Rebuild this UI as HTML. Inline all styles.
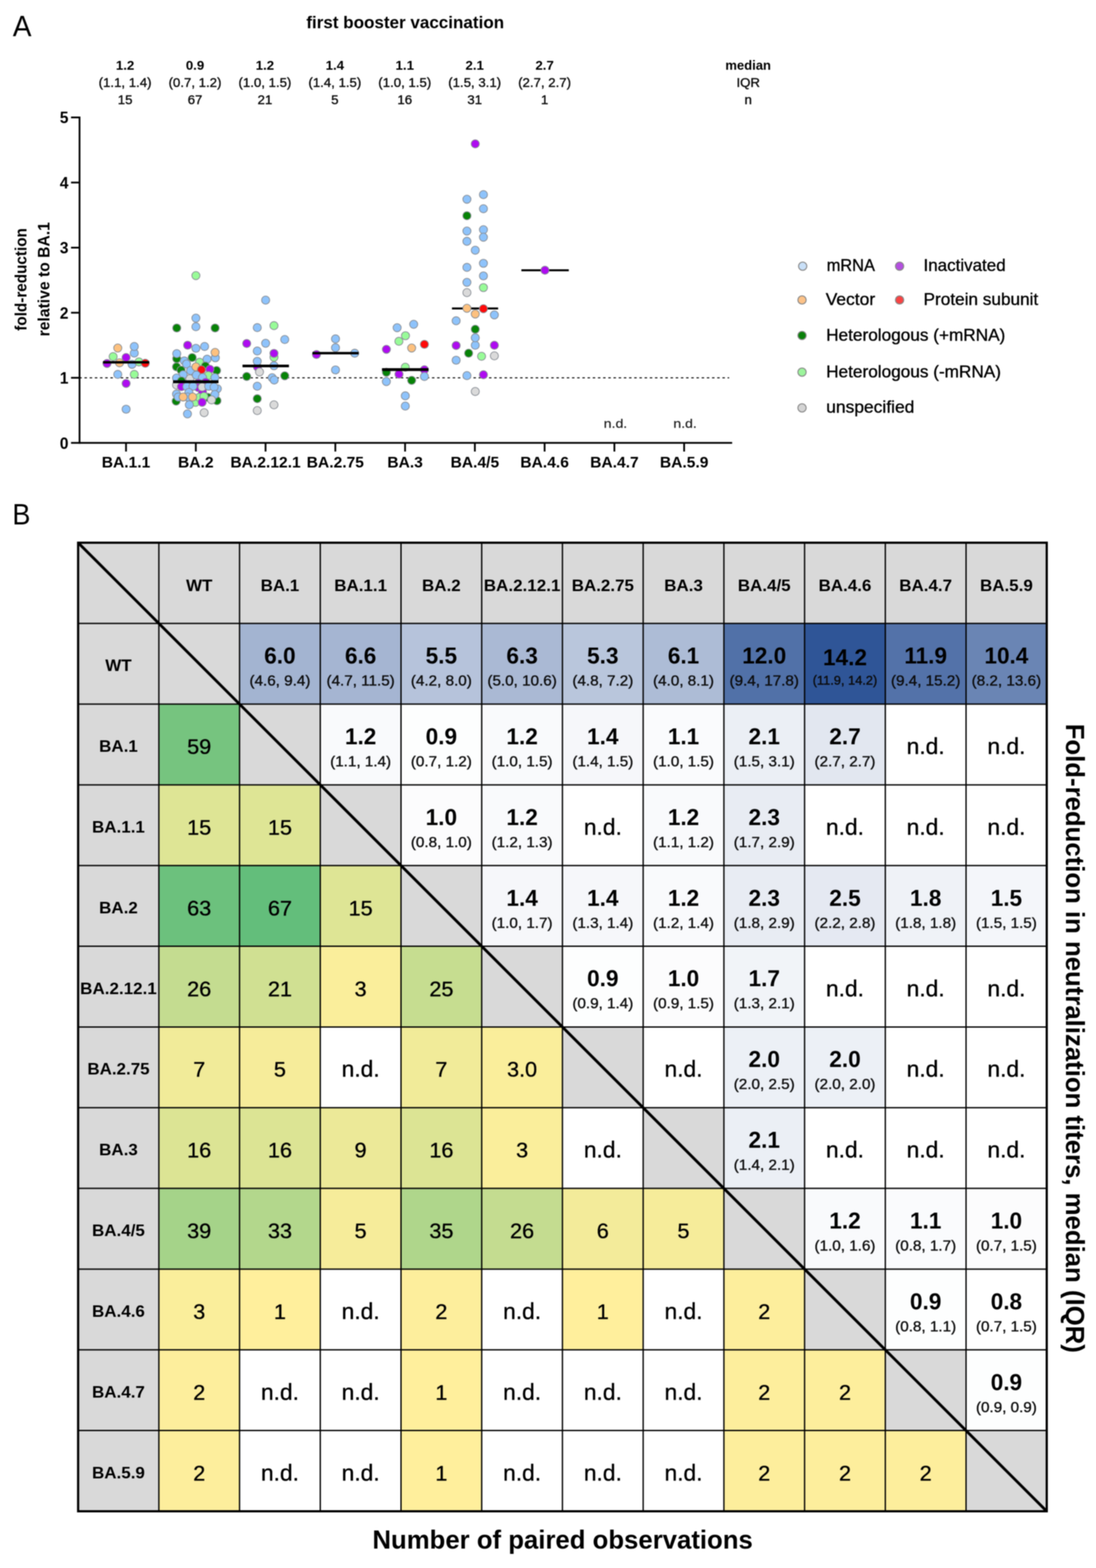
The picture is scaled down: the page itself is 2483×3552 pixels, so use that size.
<!DOCTYPE html>
<html lang="en">
<head>
<meta charset="utf-8">
<title>Fold-reduction in neutralization titers</title>
<style>
html,body{margin:0;padding:0;background:#fff;}
body{width:2483px;height:3552px;overflow:hidden;}
svg{display:block;}
text{font-family:"Liberation Sans",sans-serif;}
text.b{font-weight:bold;}
text.r{font-weight:normal;stroke:#000;stroke-width:0.7px;stroke-linejoin:round;}
</style>
</head>
<body>
<svg width="2483" height="3552" viewBox="0 0 2483 3552" style="filter:blur(0.8px)">
<rect x="0" y="0" width="2483" height="3552" fill="#fff"/>
<text class="r" x="29.0" y="81.5" font-size="66" text-anchor="start" textLength="42.3" lengthAdjust="spacingAndGlyphs" fill="#000" style="stroke:none">A</text>
<text class="b" x="918.0" y="63.7" font-size="38.6" text-anchor="middle" fill="#000">first booster vaccination</text>
<text class="b" x="283.4" y="157.8" font-size="29.5" text-anchor="middle" textLength="41.8" lengthAdjust="spacingAndGlyphs" fill="#000">1.2</text>
<text class="r" x="283.4" y="196.6" font-size="29.5" text-anchor="middle" textLength="119.8" lengthAdjust="spacingAndGlyphs" fill="#111">(1.1, 1.4)</text>
<text class="r" x="283.4" y="235.5" font-size="29.5" text-anchor="middle" textLength="33.3" lengthAdjust="spacingAndGlyphs" fill="#111">15</text>
<text class="b" x="441.8" y="157.8" font-size="29.5" text-anchor="middle" textLength="41.8" lengthAdjust="spacingAndGlyphs" fill="#000">0.9</text>
<text class="r" x="441.8" y="196.6" font-size="29.5" text-anchor="middle" textLength="119.8" lengthAdjust="spacingAndGlyphs" fill="#111">(0.7, 1.2)</text>
<text class="r" x="441.8" y="235.5" font-size="29.5" text-anchor="middle" textLength="33.3" lengthAdjust="spacingAndGlyphs" fill="#111">67</text>
<text class="b" x="600.2" y="157.8" font-size="29.5" text-anchor="middle" textLength="41.8" lengthAdjust="spacingAndGlyphs" fill="#000">1.2</text>
<text class="r" x="600.2" y="196.6" font-size="29.5" text-anchor="middle" textLength="119.8" lengthAdjust="spacingAndGlyphs" fill="#111">(1.0, 1.5)</text>
<text class="r" x="600.2" y="235.5" font-size="29.5" text-anchor="middle" textLength="33.3" lengthAdjust="spacingAndGlyphs" fill="#111">21</text>
<text class="b" x="758.6" y="157.8" font-size="29.5" text-anchor="middle" textLength="41.8" lengthAdjust="spacingAndGlyphs" fill="#000">1.4</text>
<text class="r" x="758.6" y="196.6" font-size="29.5" text-anchor="middle" textLength="119.8" lengthAdjust="spacingAndGlyphs" fill="#111">(1.4, 1.5)</text>
<text class="r" x="758.6" y="235.5" font-size="29.5" text-anchor="middle" textLength="16.7" lengthAdjust="spacingAndGlyphs" fill="#111">5</text>
<text class="b" x="917.0" y="157.8" font-size="29.5" text-anchor="middle" textLength="41.8" lengthAdjust="spacingAndGlyphs" fill="#000">1.1</text>
<text class="r" x="917.0" y="196.6" font-size="29.5" text-anchor="middle" textLength="119.8" lengthAdjust="spacingAndGlyphs" fill="#111">(1.0, 1.5)</text>
<text class="r" x="917.0" y="235.5" font-size="29.5" text-anchor="middle" textLength="33.3" lengthAdjust="spacingAndGlyphs" fill="#111">16</text>
<text class="b" x="1075.4" y="157.8" font-size="29.5" text-anchor="middle" textLength="41.8" lengthAdjust="spacingAndGlyphs" fill="#000">2.1</text>
<text class="r" x="1075.4" y="196.6" font-size="29.5" text-anchor="middle" textLength="119.8" lengthAdjust="spacingAndGlyphs" fill="#111">(1.5, 3.1)</text>
<text class="r" x="1075.4" y="235.5" font-size="29.5" text-anchor="middle" textLength="33.3" lengthAdjust="spacingAndGlyphs" fill="#111">31</text>
<text class="b" x="1233.8" y="157.8" font-size="29.5" text-anchor="middle" textLength="41.8" lengthAdjust="spacingAndGlyphs" fill="#000">2.7</text>
<text class="r" x="1233.8" y="196.6" font-size="29.5" text-anchor="middle" textLength="119.8" lengthAdjust="spacingAndGlyphs" fill="#111">(2.7, 2.7)</text>
<text class="r" x="1233.8" y="235.5" font-size="29.5" text-anchor="middle" textLength="16.7" lengthAdjust="spacingAndGlyphs" fill="#111">1</text>
<text class="b" x="1695.0" y="157.8" font-size="29.5" text-anchor="middle" fill="#000">median</text>
<text class="r" x="1695.0" y="196.6" font-size="29.5" text-anchor="middle" textLength="53.2" lengthAdjust="spacingAndGlyphs" fill="#111">IQR</text>
<text class="r" x="1695.0" y="235.5" font-size="29.5" text-anchor="middle" textLength="16.7" lengthAdjust="spacingAndGlyphs" fill="#111">n</text>
<text class="b" x="0.0" y="0.0" font-size="36.8" text-anchor="middle" textLength="232.5" lengthAdjust="spacingAndGlyphs" transform="translate(59.5 633.0) rotate(-90)" fill="#000">fold-reduction</text>
<text class="b" x="0.0" y="0.0" font-size="36.8" text-anchor="middle" textLength="258.8" lengthAdjust="spacingAndGlyphs" transform="translate(112.0 632.6) rotate(-90)" fill="#000">relative to BA.1</text>
<line x1="179.6" y1="855.8" x2="1652.0" y2="855.8" stroke="#000" stroke-width="2.2" stroke-dasharray="5.6 6.15"/>
<circle cx="242.4" cy="823.3" r="9.2" fill="#AE0BF0" stroke="#8A8F96" stroke-width="1.8"/>
<circle cx="270.8" cy="821.8" r="9.2" fill="#FDC17F" stroke="#8A8F96" stroke-width="1.8"/>
<circle cx="299.2" cy="825.3" r="9.2" fill="#8EC3FB" stroke="#8A8F96" stroke-width="1.8"/>
<circle cx="314.7" cy="819.8" r="9.2" fill="#98FB98" stroke="#8A8F96" stroke-width="1.8"/>
<circle cx="329.1" cy="822.8" r="9.2" fill="#FF0A0A" stroke="#8A8F96" stroke-width="1.8"/>
<circle cx="256.3" cy="807.8" r="9.2" fill="#98FB98" stroke="#8A8F96" stroke-width="1.8"/>
<circle cx="304.2" cy="799.9" r="9.2" fill="#8EC3FB" stroke="#8A8F96" stroke-width="1.8"/>
<circle cx="285.7" cy="809.8" r="9.2" fill="#AE0BF0" stroke="#8A8F96" stroke-width="1.8"/>
<circle cx="266.8" cy="788.4" r="9.2" fill="#FDC17F" stroke="#8A8F96" stroke-width="1.8"/>
<circle cx="304.2" cy="784.9" r="9.2" fill="#8EC3FB" stroke="#8A8F96" stroke-width="1.8"/>
<circle cx="266.8" cy="848.2" r="9.2" fill="#8EC3FB" stroke="#8A8F96" stroke-width="1.8"/>
<circle cx="304.2" cy="848.2" r="9.2" fill="#98FB98" stroke="#8A8F96" stroke-width="1.8"/>
<circle cx="285.7" cy="868.6" r="9.2" fill="#AE0BF0" stroke="#8A8F96" stroke-width="1.8"/>
<circle cx="285.7" cy="927.0" r="9.2" fill="#8EC3FB" stroke="#8A8F96" stroke-width="1.8"/>
<line x1="233.4" y1="820.8" x2="338.0" y2="820.8" stroke="#000" stroke-width="5.6"/>
<circle cx="443.8" cy="624.3" r="9.2" fill="#98FB98" stroke="#8A8F96" stroke-width="1.8"/>
<circle cx="443.8" cy="740.2" r="9.2" fill="#8EC3FB" stroke="#8A8F96" stroke-width="1.8"/>
<circle cx="443.8" cy="720.6" r="9.2" fill="#8EC3FB" stroke="#8A8F96" stroke-width="1.8"/>
<circle cx="400.4" cy="743.0" r="9.2" fill="#078307" stroke="#8A8F96" stroke-width="1.8"/>
<circle cx="487.3" cy="743.0" r="9.2" fill="#078307" stroke="#8A8F96" stroke-width="1.8"/>
<circle cx="425.1" cy="782.0" r="9.2" fill="#AE0BF0" stroke="#8A8F96" stroke-width="1.8"/>
<circle cx="443.8" cy="789.0" r="9.2" fill="#8EC3FB" stroke="#8A8F96" stroke-width="1.8"/>
<circle cx="463.5" cy="784.8" r="9.2" fill="#8EC3FB" stroke="#8A8F96" stroke-width="1.8"/>
<circle cx="487.8" cy="810.5" r="9.2" fill="#8EC3FB" stroke="#8A8F96" stroke-width="1.8"/>
<circle cx="487.3" cy="798.3" r="9.2" fill="#FDC17F" stroke="#8A8F96" stroke-width="1.8"/>
<circle cx="400.4" cy="812.5" r="9.2" fill="#078307" stroke="#8A8F96" stroke-width="1.8"/>
<circle cx="400.4" cy="801.1" r="9.2" fill="#8EC3FB" stroke="#8A8F96" stroke-width="1.8"/>
<circle cx="435.4" cy="810.0" r="9.2" fill="#078307" stroke="#8A8F96" stroke-width="1.8"/>
<circle cx="417.5" cy="817.5" r="9.2" fill="#8EC3FB" stroke="#8A8F96" stroke-width="1.8"/>
<circle cx="469.1" cy="813.7" r="9.2" fill="#8EC3FB" stroke="#8A8F96" stroke-width="1.8"/>
<circle cx="452.2" cy="820.7" r="9.2" fill="#98FB98" stroke="#8A8F96" stroke-width="1.8"/>
<circle cx="465.3" cy="829.2" r="9.2" fill="#078307" stroke="#8A8F96" stroke-width="1.8"/>
<circle cx="399.9" cy="831.0" r="9.2" fill="#078307" stroke="#8A8F96" stroke-width="1.8"/>
<circle cx="410.2" cy="838.5" r="9.2" fill="#078307" stroke="#8A8F96" stroke-width="1.8"/>
<circle cx="422.5" cy="824.5" r="9.2" fill="#8EC3FB" stroke="#8A8F96" stroke-width="1.8"/>
<circle cx="490.6" cy="839.4" r="9.2" fill="#078307" stroke="#8A8F96" stroke-width="1.8"/>
<circle cx="475.6" cy="836.6" r="9.2" fill="#AE0BF0" stroke="#8A8F96" stroke-width="1.8"/>
<circle cx="471.9" cy="850.7" r="9.2" fill="#98FB98" stroke="#8A8F96" stroke-width="1.8"/>
<circle cx="431.7" cy="839.4" r="9.2" fill="#8EC3FB" stroke="#8A8F96" stroke-width="1.8"/>
<circle cx="443.8" cy="831.0" r="9.2" fill="#FDC17F" stroke="#8A8F96" stroke-width="1.8"/>
<circle cx="456.4" cy="837.6" r="9.2" fill="#FF0A0A" stroke="#8A8F96" stroke-width="1.8"/>
<circle cx="430.0" cy="858.0" r="9.2" fill="#DADADA" stroke="#8A8F96" stroke-width="1.8"/>
<circle cx="414.9" cy="848.8" r="9.2" fill="#8EC3FB" stroke="#8A8F96" stroke-width="1.8"/>
<circle cx="444.8" cy="849.7" r="9.2" fill="#8EC3FB" stroke="#8A8F96" stroke-width="1.8"/>
<circle cx="399.9" cy="856.3" r="9.2" fill="#8EC3FB" stroke="#8A8F96" stroke-width="1.8"/>
<circle cx="458.8" cy="855.3" r="9.2" fill="#8EC3FB" stroke="#8A8F96" stroke-width="1.8"/>
<circle cx="486.8" cy="855.3" r="9.2" fill="#8EC3FB" stroke="#8A8F96" stroke-width="1.8"/>
<circle cx="411.1" cy="863.0" r="9.2" fill="#078307" stroke="#8A8F96" stroke-width="1.8"/>
<circle cx="449.0" cy="868.0" r="9.2" fill="#AE0BF0" stroke="#8A8F96" stroke-width="1.8"/>
<circle cx="466.0" cy="866.0" r="9.2" fill="#AE0BF0" stroke="#8A8F96" stroke-width="1.8"/>
<circle cx="399.9" cy="872.1" r="9.2" fill="#DADADA" stroke="#8A8F96" stroke-width="1.8"/>
<circle cx="411.1" cy="875.9" r="9.2" fill="#AE0BF0" stroke="#8A8F96" stroke-width="1.8"/>
<circle cx="449.4" cy="877.8" r="9.2" fill="#AE0BF0" stroke="#8A8F96" stroke-width="1.8"/>
<circle cx="458.8" cy="888.0" r="9.2" fill="#AE0BF0" stroke="#8A8F96" stroke-width="1.8"/>
<circle cx="423.3" cy="875.9" r="9.2" fill="#8EC3FB" stroke="#8A8F96" stroke-width="1.8"/>
<circle cx="437.3" cy="875.0" r="9.2" fill="#8EC3FB" stroke="#8A8F96" stroke-width="1.8"/>
<circle cx="457.9" cy="876.8" r="9.2" fill="#DADADA" stroke="#8A8F96" stroke-width="1.8"/>
<circle cx="472.8" cy="875.0" r="9.2" fill="#8EC3FB" stroke="#8A8F96" stroke-width="1.8"/>
<circle cx="492.4" cy="880.6" r="9.2" fill="#8EC3FB" stroke="#8A8F96" stroke-width="1.8"/>
<circle cx="485.0" cy="876.8" r="9.2" fill="#8EC3FB" stroke="#8A8F96" stroke-width="1.8"/>
<circle cx="399.0" cy="908.6" r="9.2" fill="#078307" stroke="#8A8F96" stroke-width="1.8"/>
<circle cx="491.5" cy="907.7" r="9.2" fill="#078307" stroke="#8A8F96" stroke-width="1.8"/>
<circle cx="470.9" cy="900.2" r="9.2" fill="#078307" stroke="#8A8F96" stroke-width="1.8"/>
<circle cx="427.9" cy="889.0" r="9.2" fill="#8EC3FB" stroke="#8A8F96" stroke-width="1.8"/>
<circle cx="399.9" cy="892.7" r="9.2" fill="#8EC3FB" stroke="#8A8F96" stroke-width="1.8"/>
<circle cx="403.6" cy="899.3" r="9.2" fill="#8EC3FB" stroke="#8A8F96" stroke-width="1.8"/>
<circle cx="486.8" cy="893.6" r="9.2" fill="#8EC3FB" stroke="#8A8F96" stroke-width="1.8"/>
<circle cx="442.9" cy="911.4" r="9.2" fill="#98FB98" stroke="#8A8F96" stroke-width="1.8"/>
<circle cx="451.3" cy="900.2" r="9.2" fill="#98FB98" stroke="#8A8F96" stroke-width="1.8"/>
<circle cx="462.0" cy="898.0" r="9.2" fill="#98FB98" stroke="#8A8F96" stroke-width="1.8"/>
<circle cx="425.0" cy="899.3" r="9.2" fill="#8EC3FB" stroke="#8A8F96" stroke-width="1.8"/>
<circle cx="414.9" cy="899.3" r="9.2" fill="#FDC17F" stroke="#8A8F96" stroke-width="1.8"/>
<circle cx="436.4" cy="899.3" r="9.2" fill="#FDC17F" stroke="#8A8F96" stroke-width="1.8"/>
<circle cx="479.3" cy="905.8" r="9.2" fill="#DADADA" stroke="#8A8F96" stroke-width="1.8"/>
<circle cx="457.9" cy="911.4" r="9.2" fill="#AE0BF0" stroke="#8A8F96" stroke-width="1.8"/>
<circle cx="428.9" cy="917.0" r="9.2" fill="#8EC3FB" stroke="#8A8F96" stroke-width="1.8"/>
<circle cx="424.7" cy="937.6" r="9.2" fill="#8EC3FB" stroke="#8A8F96" stroke-width="1.8"/>
<circle cx="462.5" cy="934.8" r="9.2" fill="#DADADA" stroke="#8A8F96" stroke-width="1.8"/>
<line x1="392.0" y1="864.7" x2="495.0" y2="864.7" stroke="#000" stroke-width="6.4"/>
<circle cx="601.8" cy="679.9" r="9.2" fill="#8EC3FB" stroke="#8A8F96" stroke-width="1.8"/>
<circle cx="582.8" cy="742.2" r="9.2" fill="#8EC3FB" stroke="#8A8F96" stroke-width="1.8"/>
<circle cx="620.7" cy="737.7" r="9.2" fill="#98FB98" stroke="#8A8F96" stroke-width="1.8"/>
<circle cx="645.1" cy="769.1" r="9.2" fill="#8EC3FB" stroke="#8A8F96" stroke-width="1.8"/>
<circle cx="558.9" cy="778.1" r="9.2" fill="#AE0BF0" stroke="#8A8F96" stroke-width="1.8"/>
<circle cx="601.8" cy="777.6" r="9.2" fill="#8EC3FB" stroke="#8A8F96" stroke-width="1.8"/>
<circle cx="582.8" cy="795.2" r="9.2" fill="#8EC3FB" stroke="#8A8F96" stroke-width="1.8"/>
<circle cx="620.7" cy="828.5" r="9.2" fill="#8EC3FB" stroke="#8A8F96" stroke-width="1.8"/>
<circle cx="620.7" cy="809.4" r="9.2" fill="#98FB98" stroke="#8A8F96" stroke-width="1.8"/>
<circle cx="620.7" cy="800.5" r="9.2" fill="#AE0BF0" stroke="#8A8F96" stroke-width="1.8"/>
<circle cx="583.2" cy="831.0" r="9.2" fill="#AE0BF0" stroke="#8A8F96" stroke-width="1.8"/>
<circle cx="582.8" cy="818.5" r="9.2" fill="#8EC3FB" stroke="#8A8F96" stroke-width="1.8"/>
<circle cx="587.9" cy="842.6" r="9.2" fill="#DADADA" stroke="#8A8F96" stroke-width="1.8"/>
<circle cx="558.9" cy="852.8" r="9.2" fill="#078307" stroke="#8A8F96" stroke-width="1.8"/>
<circle cx="645.1" cy="851.3" r="9.2" fill="#078307" stroke="#8A8F96" stroke-width="1.8"/>
<circle cx="616.5" cy="855.6" r="9.2" fill="#8EC3FB" stroke="#8A8F96" stroke-width="1.8"/>
<circle cx="621.2" cy="860.8" r="9.2" fill="#8EC3FB" stroke="#8A8F96" stroke-width="1.8"/>
<circle cx="582.8" cy="874.9" r="9.2" fill="#8EC3FB" stroke="#8A8F96" stroke-width="1.8"/>
<circle cx="582.8" cy="903.2" r="9.2" fill="#078307" stroke="#8A8F96" stroke-width="1.8"/>
<circle cx="620.7" cy="917.1" r="9.2" fill="#DADADA" stroke="#8A8F96" stroke-width="1.8"/>
<circle cx="582.8" cy="930.1" r="9.2" fill="#DADADA" stroke="#8A8F96" stroke-width="1.8"/>
<line x1="549.4" y1="829.1" x2="654.6" y2="829.1" stroke="#000" stroke-width="6.0"/>
<circle cx="760.1" cy="787.7" r="9.2" fill="#8EC3FB" stroke="#8A8F96" stroke-width="1.8"/>
<circle cx="760.1" cy="767.7" r="9.2" fill="#8EC3FB" stroke="#8A8F96" stroke-width="1.8"/>
<circle cx="716.9" cy="803.0" r="9.2" fill="#AE0BF0" stroke="#8A8F96" stroke-width="1.8"/>
<circle cx="803.6" cy="800.2" r="9.2" fill="#8EC3FB" stroke="#8A8F96" stroke-width="1.8"/>
<circle cx="760.1" cy="838.0" r="9.2" fill="#8EC3FB" stroke="#8A8F96" stroke-width="1.8"/>
<line x1="707.9" y1="800.0" x2="812.6" y2="800.0" stroke="#000" stroke-width="5.3"/>
<circle cx="899.7" cy="742.3" r="9.2" fill="#8EC3FB" stroke="#8A8F96" stroke-width="1.8"/>
<circle cx="937.2" cy="734.6" r="9.2" fill="#8EC3FB" stroke="#8A8F96" stroke-width="1.8"/>
<circle cx="903.7" cy="773.2" r="9.2" fill="#98FB98" stroke="#8A8F96" stroke-width="1.8"/>
<circle cx="918.6" cy="760.5" r="9.2" fill="#98FB98" stroke="#8A8F96" stroke-width="1.8"/>
<circle cx="961.5" cy="780.0" r="9.2" fill="#FF0A0A" stroke="#8A8F96" stroke-width="1.8"/>
<circle cx="932.6" cy="788.3" r="9.2" fill="#FDC17F" stroke="#8A8F96" stroke-width="1.8"/>
<circle cx="875.4" cy="791.3" r="9.2" fill="#AE0BF0" stroke="#8A8F96" stroke-width="1.8"/>
<circle cx="918.2" cy="831.8" r="9.2" fill="#98FB98" stroke="#8A8F96" stroke-width="1.8"/>
<circle cx="875.4" cy="843.3" r="9.2" fill="#078307" stroke="#8A8F96" stroke-width="1.8"/>
<circle cx="903.9" cy="847.7" r="9.2" fill="#AE0BF0" stroke="#8A8F96" stroke-width="1.8"/>
<circle cx="961.5" cy="837.6" r="9.2" fill="#AE0BF0" stroke="#8A8F96" stroke-width="1.8"/>
<circle cx="961.5" cy="852.9" r="9.2" fill="#8EC3FB" stroke="#8A8F96" stroke-width="1.8"/>
<circle cx="875.3" cy="864.4" r="9.2" fill="#8EC3FB" stroke="#8A8F96" stroke-width="1.8"/>
<circle cx="932.6" cy="861.6" r="9.2" fill="#078307" stroke="#8A8F96" stroke-width="1.8"/>
<circle cx="918.2" cy="896.7" r="9.2" fill="#8EC3FB" stroke="#8A8F96" stroke-width="1.8"/>
<circle cx="918.2" cy="919.9" r="9.2" fill="#8EC3FB" stroke="#8A8F96" stroke-width="1.8"/>
<line x1="865.4" y1="837.3" x2="970.7" y2="837.3" stroke="#000" stroke-width="6.6"/>
<line x1="1023.9" y1="698.8" x2="1128.5" y2="698.8" stroke="#000" stroke-width="4.4"/>
<circle cx="1076.7" cy="325.9" r="9.2" fill="#AE0BF0" stroke="#8A8F96" stroke-width="1.8"/>
<circle cx="1095.2" cy="440.9" r="9.2" fill="#8EC3FB" stroke="#8A8F96" stroke-width="1.8"/>
<circle cx="1057.8" cy="451.3" r="9.2" fill="#8EC3FB" stroke="#8A8F96" stroke-width="1.8"/>
<circle cx="1095.2" cy="472.8" r="9.2" fill="#8EC3FB" stroke="#8A8F96" stroke-width="1.8"/>
<circle cx="1057.8" cy="488.7" r="9.2" fill="#078307" stroke="#8A8F96" stroke-width="1.8"/>
<circle cx="1057.8" cy="523.4" r="9.2" fill="#8EC3FB" stroke="#8A8F96" stroke-width="1.8"/>
<circle cx="1095.2" cy="520.4" r="9.2" fill="#8EC3FB" stroke="#8A8F96" stroke-width="1.8"/>
<circle cx="1095.2" cy="537.3" r="9.2" fill="#8EC3FB" stroke="#8A8F96" stroke-width="1.8"/>
<circle cx="1057.8" cy="546.7" r="9.2" fill="#8EC3FB" stroke="#8A8F96" stroke-width="1.8"/>
<circle cx="1076.7" cy="566.8" r="9.2" fill="#8EC3FB" stroke="#8A8F96" stroke-width="1.8"/>
<circle cx="1095.2" cy="596.5" r="9.2" fill="#8EC3FB" stroke="#8A8F96" stroke-width="1.8"/>
<circle cx="1057.8" cy="605.7" r="9.2" fill="#8EC3FB" stroke="#8A8F96" stroke-width="1.8"/>
<circle cx="1095.2" cy="625.0" r="9.2" fill="#8EC3FB" stroke="#8A8F96" stroke-width="1.8"/>
<circle cx="1057.8" cy="639.6" r="9.2" fill="#8EC3FB" stroke="#8A8F96" stroke-width="1.8"/>
<circle cx="1095.2" cy="651.5" r="9.2" fill="#98FB98" stroke="#8A8F96" stroke-width="1.8"/>
<circle cx="1057.8" cy="662.9" r="9.2" fill="#DADADA" stroke="#8A8F96" stroke-width="1.8"/>
<circle cx="1057.8" cy="698.4" r="9.2" fill="#FDC17F" stroke="#8A8F96" stroke-width="1.8"/>
<circle cx="1095.2" cy="699.4" r="9.2" fill="#FF0A0A" stroke="#8A8F96" stroke-width="1.8"/>
<circle cx="1076.7" cy="711.3" r="9.2" fill="#FDC17F" stroke="#8A8F96" stroke-width="1.8"/>
<circle cx="1120.0" cy="713.3" r="9.2" fill="#8EC3FB" stroke="#8A8F96" stroke-width="1.8"/>
<circle cx="1033.4" cy="726.7" r="9.2" fill="#8EC3FB" stroke="#8A8F96" stroke-width="1.8"/>
<circle cx="1076.7" cy="745.8" r="9.2" fill="#078307" stroke="#8A8F96" stroke-width="1.8"/>
<circle cx="1076.7" cy="782.1" r="9.2" fill="#8EC3FB" stroke="#8A8F96" stroke-width="1.8"/>
<circle cx="1076.7" cy="765.2" r="9.2" fill="#8EC3FB" stroke="#8A8F96" stroke-width="1.8"/>
<circle cx="1033.4" cy="782.7" r="9.2" fill="#AE0BF0" stroke="#8A8F96" stroke-width="1.8"/>
<circle cx="1120.0" cy="782.1" r="9.2" fill="#AE0BF0" stroke="#8A8F96" stroke-width="1.8"/>
<circle cx="1061.7" cy="800.1" r="9.2" fill="#078307" stroke="#8A8F96" stroke-width="1.8"/>
<circle cx="1091.0" cy="807.1" r="9.2" fill="#98FB98" stroke="#8A8F96" stroke-width="1.8"/>
<circle cx="1120.0" cy="806.1" r="9.2" fill="#DADADA" stroke="#8A8F96" stroke-width="1.8"/>
<circle cx="1033.4" cy="816.0" r="9.2" fill="#8EC3FB" stroke="#8A8F96" stroke-width="1.8"/>
<circle cx="1057.8" cy="850.9" r="9.2" fill="#8EC3FB" stroke="#8A8F96" stroke-width="1.8"/>
<circle cx="1095.2" cy="848.9" r="9.2" fill="#AE0BF0" stroke="#8A8F96" stroke-width="1.8"/>
<circle cx="1076.7" cy="886.8" r="9.2" fill="#DADADA" stroke="#8A8F96" stroke-width="1.8"/>
<line x1="1181.2" y1="612.2" x2="1288.6" y2="612.2" stroke="#000" stroke-width="4.4"/>
<circle cx="1234.6" cy="612.2" r="9.2" fill="#AE0BF0" stroke="#8A8F96" stroke-width="1.8"/>
<line x1="180.2" y1="264.0" x2="180.2" y2="1005.3" stroke="#000" stroke-width="4.0"/>
<line x1="160.9" y1="1003.3" x2="1658.7" y2="1003.3" stroke="#000" stroke-width="4.0"/>
<line x1="160.9" y1="855.8" x2="180.2" y2="855.8" stroke="#000" stroke-width="4.0"/>
<line x1="160.9" y1="708.4" x2="180.2" y2="708.4" stroke="#000" stroke-width="4.0"/>
<line x1="160.9" y1="561.0" x2="180.2" y2="561.0" stroke="#000" stroke-width="4.0"/>
<line x1="160.9" y1="413.5" x2="180.2" y2="413.5" stroke="#000" stroke-width="4.0"/>
<line x1="160.9" y1="266.0" x2="180.2" y2="266.0" stroke="#000" stroke-width="4.0"/>
<text class="b" x="155.0" y="1016.6" font-size="37.5" text-anchor="end" textLength="19.6" lengthAdjust="spacingAndGlyphs" fill="#000">0</text>
<text class="b" x="155.0" y="869.1" font-size="37.5" text-anchor="end" textLength="19.6" lengthAdjust="spacingAndGlyphs" fill="#000">1</text>
<text class="b" x="155.0" y="721.7" font-size="37.5" text-anchor="end" textLength="19.6" lengthAdjust="spacingAndGlyphs" fill="#000">2</text>
<text class="b" x="155.0" y="574.2" font-size="37.5" text-anchor="end" textLength="19.6" lengthAdjust="spacingAndGlyphs" fill="#000">3</text>
<text class="b" x="155.0" y="426.8" font-size="37.5" text-anchor="end" textLength="19.6" lengthAdjust="spacingAndGlyphs" fill="#000">4</text>
<text class="b" x="155.0" y="279.3" font-size="37.5" text-anchor="end" textLength="19.6" lengthAdjust="spacingAndGlyphs" fill="#000">5</text>
<line x1="285.5" y1="1003.3" x2="285.5" y2="1022.9" stroke="#000" stroke-width="4.0"/>
<text class="b" x="285.5" y="1058.5" font-size="35" text-anchor="middle" textLength="110.0" lengthAdjust="spacingAndGlyphs" fill="#000">BA.1.1</text>
<line x1="443.6" y1="1003.3" x2="443.6" y2="1022.9" stroke="#000" stroke-width="4.0"/>
<text class="b" x="443.6" y="1058.5" font-size="35" text-anchor="middle" textLength="80.5" lengthAdjust="spacingAndGlyphs" fill="#000">BA.2</text>
<line x1="601.6" y1="1003.3" x2="601.6" y2="1022.9" stroke="#000" stroke-width="4.0"/>
<text class="b" x="601.6" y="1058.5" font-size="35" text-anchor="middle" textLength="159.2" lengthAdjust="spacingAndGlyphs" fill="#000">BA.2.12.1</text>
<line x1="759.7" y1="1003.3" x2="759.7" y2="1022.9" stroke="#000" stroke-width="4.0"/>
<text class="b" x="759.7" y="1058.5" font-size="35" text-anchor="middle" textLength="129.7" lengthAdjust="spacingAndGlyphs" fill="#000">BA.2.75</text>
<line x1="917.7" y1="1003.3" x2="917.7" y2="1022.9" stroke="#000" stroke-width="4.0"/>
<text class="b" x="917.7" y="1058.5" font-size="35" text-anchor="middle" textLength="80.5" lengthAdjust="spacingAndGlyphs" fill="#000">BA.3</text>
<line x1="1075.8" y1="1003.3" x2="1075.8" y2="1022.9" stroke="#000" stroke-width="4.0"/>
<text class="b" x="1075.8" y="1058.5" font-size="35" text-anchor="middle" textLength="110.0" lengthAdjust="spacingAndGlyphs" fill="#000">BA.4/5</text>
<line x1="1233.8" y1="1003.3" x2="1233.8" y2="1022.9" stroke="#000" stroke-width="4.0"/>
<text class="b" x="1233.8" y="1058.5" font-size="35" text-anchor="middle" textLength="110.0" lengthAdjust="spacingAndGlyphs" fill="#000">BA.4.6</text>
<line x1="1391.9" y1="1003.3" x2="1391.9" y2="1022.9" stroke="#000" stroke-width="4.0"/>
<text class="b" x="1391.9" y="1058.5" font-size="35" text-anchor="middle" textLength="110.0" lengthAdjust="spacingAndGlyphs" fill="#000">BA.4.7</text>
<line x1="1549.9" y1="1003.3" x2="1549.9" y2="1022.9" stroke="#000" stroke-width="4.0"/>
<text class="b" x="1549.9" y="1058.5" font-size="35" text-anchor="middle" textLength="110.0" lengthAdjust="spacingAndGlyphs" fill="#000">BA.5.9</text>
<text class="r" x="1394.4" y="968.8" font-size="28.2" text-anchor="middle" textLength="53.2" lengthAdjust="spacingAndGlyphs" fill="#222" style="stroke-width:0.3px">n.d.</text>
<text class="r" x="1552.1" y="968.8" font-size="28.2" text-anchor="middle" textLength="53.2" lengthAdjust="spacingAndGlyphs" fill="#222" style="stroke-width:0.3px">n.d.</text>
<circle cx="1818.5" cy="603" r="9.4" fill="#C9E0F8" stroke="#888" stroke-width="2.3"/>
<text class="r" x="1873.0" y="614.0" font-size="38" text-anchor="start" textLength="109.1" lengthAdjust="spacingAndGlyphs" fill="#000">mRNA</text>
<circle cx="2038" cy="603" r="9.4" fill="#B44FE0" stroke="#888" stroke-width="2.3"/>
<text class="r" x="2092.3" y="614.0" font-size="38" text-anchor="start" textLength="186.0" lengthAdjust="spacingAndGlyphs" fill="#000">Inactivated</text>
<circle cx="1817" cy="679.5" r="9.4" fill="#FCC288" stroke="#888" stroke-width="2.3"/>
<text class="r" x="1870.7" y="690.5" font-size="38" text-anchor="start" textLength="112.0" lengthAdjust="spacingAndGlyphs" fill="#000">Vector</text>
<circle cx="2038" cy="679.5" r="9.4" fill="#F84444" stroke="#888" stroke-width="2.3"/>
<text class="r" x="2092.3" y="690.5" font-size="38" text-anchor="start" textLength="259.8" lengthAdjust="spacingAndGlyphs" fill="#000">Protein subunit</text>
<circle cx="1817" cy="760" r="9.4" fill="#0A800A" stroke="#888" stroke-width="2.3"/>
<text class="r" x="1871.7" y="772.0" font-size="38" text-anchor="start" textLength="405.9" lengthAdjust="spacingAndGlyphs" fill="#000">Heterologous (+mRNA)</text>
<circle cx="1817" cy="843" r="9.4" fill="#9CF49C" stroke="#888" stroke-width="2.3"/>
<text class="r" x="1871.7" y="854.8" font-size="38" text-anchor="start" textLength="396.1" lengthAdjust="spacingAndGlyphs" fill="#000">Heterologous (-mRNA)</text>
<circle cx="1817" cy="924" r="9.4" fill="#D4D4D4" stroke="#888" stroke-width="2.3"/>
<text class="r" x="1871.7" y="935.0" font-size="38" text-anchor="start" textLength="199.9" lengthAdjust="spacingAndGlyphs" fill="#000">unspecified</text>
<text class="r" x="28.0" y="1187.5" font-size="66" text-anchor="start" textLength="40.9" lengthAdjust="spacingAndGlyphs" fill="#000" style="stroke:none">B</text>
<rect x="177.0" y="1229.4" width="2194.4" height="182.8" fill="#D9D9D9"/>
<rect x="177.0" y="1229.4" width="182.9" height="2194.1" fill="#D9D9D9"/>
<rect x="359.9" y="1412.2" width="182.9" height="182.8" fill="#D9D9D9"/>
<rect x="542.7" y="1595.1" width="182.9" height="182.8" fill="#D9D9D9"/>
<rect x="725.6" y="1777.9" width="182.9" height="182.8" fill="#D9D9D9"/>
<rect x="908.5" y="1960.8" width="182.9" height="182.8" fill="#D9D9D9"/>
<rect x="1091.3" y="2143.6" width="182.9" height="182.8" fill="#D9D9D9"/>
<rect x="1274.2" y="2326.4" width="182.9" height="182.8" fill="#D9D9D9"/>
<rect x="1457.1" y="2509.3" width="182.9" height="182.8" fill="#D9D9D9"/>
<rect x="1640.0" y="2692.1" width="182.9" height="182.8" fill="#D9D9D9"/>
<rect x="1822.8" y="2875.0" width="182.9" height="182.8" fill="#D9D9D9"/>
<rect x="2005.7" y="3057.8" width="182.9" height="182.8" fill="#D9D9D9"/>
<rect x="2188.6" y="3240.6" width="182.9" height="182.8" fill="#D9D9D9"/>
<rect x="542.7" y="1412.2" width="182.9" height="182.8" fill="#A3B4D1"/>
<text class="b" x="634.2" y="1503.0" font-size="52.5" text-anchor="middle" textLength="71.2" lengthAdjust="spacingAndGlyphs" fill="#000">6.0</text>
<text class="r" x="634.2" y="1553.0" font-size="33.5" text-anchor="middle" textLength="138.1" lengthAdjust="spacingAndGlyphs" fill="#111">(4.6, 9.4)</text>
<rect x="725.6" y="1412.2" width="182.9" height="182.8" fill="#A5B5D2"/>
<text class="b" x="817.0" y="1503.0" font-size="52.5" text-anchor="middle" textLength="71.2" lengthAdjust="spacingAndGlyphs" fill="#000">6.6</text>
<text class="r" x="817.0" y="1553.0" font-size="33.5" text-anchor="middle" textLength="154.7" lengthAdjust="spacingAndGlyphs" fill="#111">(4.7, 11.5)</text>
<rect x="908.5" y="1412.2" width="182.9" height="182.8" fill="#B6C3DB"/>
<text class="b" x="999.9" y="1503.0" font-size="52.5" text-anchor="middle" textLength="71.2" lengthAdjust="spacingAndGlyphs" fill="#000">5.5</text>
<text class="r" x="999.9" y="1553.0" font-size="33.5" text-anchor="middle" textLength="138.1" lengthAdjust="spacingAndGlyphs" fill="#111">(4.2, 8.0)</text>
<rect x="1091.3" y="1412.2" width="182.9" height="182.8" fill="#AAB9D4"/>
<text class="b" x="1182.8" y="1503.0" font-size="52.5" text-anchor="middle" textLength="71.2" lengthAdjust="spacingAndGlyphs" fill="#000">6.3</text>
<text class="r" x="1182.8" y="1553.0" font-size="33.5" text-anchor="middle" textLength="157.3" lengthAdjust="spacingAndGlyphs" fill="#111">(5.0, 10.6)</text>
<rect x="1274.2" y="1412.2" width="182.9" height="182.8" fill="#B9C6DC"/>
<text class="b" x="1365.7" y="1503.0" font-size="52.5" text-anchor="middle" textLength="71.2" lengthAdjust="spacingAndGlyphs" fill="#000">5.3</text>
<text class="r" x="1365.7" y="1553.0" font-size="33.5" text-anchor="middle" textLength="138.1" lengthAdjust="spacingAndGlyphs" fill="#111">(4.8, 7.2)</text>
<rect x="1457.1" y="1412.2" width="182.9" height="182.8" fill="#ADBCD6"/>
<text class="b" x="1548.5" y="1503.0" font-size="52.5" text-anchor="middle" textLength="71.2" lengthAdjust="spacingAndGlyphs" fill="#000">6.1</text>
<text class="r" x="1548.5" y="1553.0" font-size="33.5" text-anchor="middle" textLength="138.1" lengthAdjust="spacingAndGlyphs" fill="#111">(4.0, 8.1)</text>
<rect x="1640.0" y="1412.2" width="182.9" height="182.8" fill="#5171A8"/>
<text class="b" x="1731.4" y="1503.0" font-size="52.5" text-anchor="middle" textLength="99.6" lengthAdjust="spacingAndGlyphs" fill="#000">12.0</text>
<text class="r" x="1731.4" y="1553.0" font-size="33.5" text-anchor="middle" textLength="157.3" lengthAdjust="spacingAndGlyphs" fill="#111">(9.4, 17.8)</text>
<rect x="1822.8" y="1412.2" width="182.9" height="182.8" fill="#2F5597"/>
<text class="b" x="1914.3" y="1506.5" font-size="52.5" text-anchor="middle" textLength="99.6" lengthAdjust="spacingAndGlyphs" fill="#000">14.2</text>
<text class="r" x="1914.3" y="1551.0" font-size="29" text-anchor="middle" fill="#111">(11.9, 14.2)</text>
<rect x="2005.7" y="1412.2" width="182.9" height="182.8" fill="#5372A9"/>
<text class="b" x="2097.1" y="1503.0" font-size="52.5" text-anchor="middle" textLength="96.8" lengthAdjust="spacingAndGlyphs" fill="#000">11.9</text>
<text class="r" x="2097.1" y="1553.0" font-size="33.5" text-anchor="middle" textLength="157.3" lengthAdjust="spacingAndGlyphs" fill="#111">(9.4, 15.2)</text>
<rect x="2188.6" y="1412.2" width="182.9" height="182.8" fill="#6A85B4"/>
<text class="b" x="2280.0" y="1503.0" font-size="52.5" text-anchor="middle" textLength="99.6" lengthAdjust="spacingAndGlyphs" fill="#000">10.4</text>
<text class="r" x="2280.0" y="1553.0" font-size="33.5" text-anchor="middle" textLength="157.3" lengthAdjust="spacingAndGlyphs" fill="#111">(8.2, 13.6)</text>
<rect x="359.9" y="1595.1" width="182.9" height="182.8" fill="#76C47F"/>
<text class="r" x="451.3" y="1708.0" font-size="49" text-anchor="middle" fill="#000">59</text>
<rect x="725.6" y="1595.1" width="182.9" height="182.8" fill="#F9FAFC"/>
<text class="b" x="817.0" y="1685.8" font-size="52.5" text-anchor="middle" textLength="71.2" lengthAdjust="spacingAndGlyphs" fill="#000">1.2</text>
<text class="r" x="817.0" y="1735.8" font-size="33.5" text-anchor="middle" textLength="138.1" lengthAdjust="spacingAndGlyphs" fill="#111">(1.1, 1.4)</text>
<rect x="908.5" y="1595.1" width="182.9" height="182.8" fill="#FDFEFE"/>
<text class="b" x="999.9" y="1685.8" font-size="52.5" text-anchor="middle" textLength="71.2" lengthAdjust="spacingAndGlyphs" fill="#000">0.9</text>
<text class="r" x="999.9" y="1735.8" font-size="33.5" text-anchor="middle" textLength="138.1" lengthAdjust="spacingAndGlyphs" fill="#111">(0.7, 1.2)</text>
<rect x="1091.3" y="1595.1" width="182.9" height="182.8" fill="#F9FAFC"/>
<text class="b" x="1182.8" y="1685.8" font-size="52.5" text-anchor="middle" textLength="71.2" lengthAdjust="spacingAndGlyphs" fill="#000">1.2</text>
<text class="r" x="1182.8" y="1735.8" font-size="33.5" text-anchor="middle" textLength="138.1" lengthAdjust="spacingAndGlyphs" fill="#111">(1.0, 1.5)</text>
<rect x="1274.2" y="1595.1" width="182.9" height="182.8" fill="#F6F7FA"/>
<text class="b" x="1365.7" y="1685.8" font-size="52.5" text-anchor="middle" textLength="71.2" lengthAdjust="spacingAndGlyphs" fill="#000">1.4</text>
<text class="r" x="1365.7" y="1735.8" font-size="33.5" text-anchor="middle" textLength="138.1" lengthAdjust="spacingAndGlyphs" fill="#111">(1.4, 1.5)</text>
<rect x="1457.1" y="1595.1" width="182.9" height="182.8" fill="#FAFBFD"/>
<text class="b" x="1548.5" y="1685.8" font-size="52.5" text-anchor="middle" textLength="71.2" lengthAdjust="spacingAndGlyphs" fill="#000">1.1</text>
<text class="r" x="1548.5" y="1735.8" font-size="33.5" text-anchor="middle" textLength="138.1" lengthAdjust="spacingAndGlyphs" fill="#111">(1.0, 1.5)</text>
<rect x="1640.0" y="1595.1" width="182.9" height="182.8" fill="#EBEFF5"/>
<text class="b" x="1731.4" y="1685.8" font-size="52.5" text-anchor="middle" textLength="71.2" lengthAdjust="spacingAndGlyphs" fill="#000">2.1</text>
<text class="r" x="1731.4" y="1735.8" font-size="33.5" text-anchor="middle" textLength="138.1" lengthAdjust="spacingAndGlyphs" fill="#111">(1.5, 3.1)</text>
<rect x="1822.8" y="1595.1" width="182.9" height="182.8" fill="#E2E7F0"/>
<text class="b" x="1914.3" y="1685.8" font-size="52.5" text-anchor="middle" textLength="71.2" lengthAdjust="spacingAndGlyphs" fill="#000">2.7</text>
<text class="r" x="1914.3" y="1735.8" font-size="33.5" text-anchor="middle" textLength="138.1" lengthAdjust="spacingAndGlyphs" fill="#111">(2.7, 2.7)</text>
<text class="r" x="2097.1" y="1708.0" font-size="51.6" text-anchor="middle" fill="#000">n.d.</text>
<text class="r" x="2280.0" y="1708.0" font-size="51.6" text-anchor="middle" fill="#000">n.d.</text>
<rect x="359.9" y="1777.9" width="182.9" height="182.8" fill="#DEE595"/>
<text class="r" x="451.3" y="1890.8" font-size="49" text-anchor="middle" fill="#000">15</text>
<rect x="542.7" y="1777.9" width="182.9" height="182.8" fill="#DEE595"/>
<text class="r" x="634.2" y="1890.8" font-size="49" text-anchor="middle" fill="#000">15</text>
<rect x="908.5" y="1777.9" width="182.9" height="182.8" fill="#FCFCFD"/>
<text class="b" x="999.9" y="1868.6" font-size="52.5" text-anchor="middle" textLength="71.2" lengthAdjust="spacingAndGlyphs" fill="#000">1.0</text>
<text class="r" x="999.9" y="1918.6" font-size="33.5" text-anchor="middle" textLength="138.1" lengthAdjust="spacingAndGlyphs" fill="#111">(0.8, 1.0)</text>
<rect x="1091.3" y="1777.9" width="182.9" height="182.8" fill="#F9FAFC"/>
<text class="b" x="1182.8" y="1868.6" font-size="52.5" text-anchor="middle" textLength="71.2" lengthAdjust="spacingAndGlyphs" fill="#000">1.2</text>
<text class="r" x="1182.8" y="1918.6" font-size="33.5" text-anchor="middle" textLength="138.1" lengthAdjust="spacingAndGlyphs" fill="#111">(1.2, 1.3)</text>
<text class="r" x="1365.7" y="1890.8" font-size="51.6" text-anchor="middle" fill="#000">n.d.</text>
<rect x="1457.1" y="1777.9" width="182.9" height="182.8" fill="#F9FAFC"/>
<text class="b" x="1548.5" y="1868.6" font-size="52.5" text-anchor="middle" textLength="71.2" lengthAdjust="spacingAndGlyphs" fill="#000">1.2</text>
<text class="r" x="1548.5" y="1918.6" font-size="33.5" text-anchor="middle" textLength="138.1" lengthAdjust="spacingAndGlyphs" fill="#111">(1.1, 1.2)</text>
<rect x="1640.0" y="1777.9" width="182.9" height="182.8" fill="#E8ECF3"/>
<text class="b" x="1731.4" y="1868.6" font-size="52.5" text-anchor="middle" textLength="71.2" lengthAdjust="spacingAndGlyphs" fill="#000">2.3</text>
<text class="r" x="1731.4" y="1918.6" font-size="33.5" text-anchor="middle" textLength="138.1" lengthAdjust="spacingAndGlyphs" fill="#111">(1.7, 2.9)</text>
<text class="r" x="1914.3" y="1890.8" font-size="51.6" text-anchor="middle" fill="#000">n.d.</text>
<text class="r" x="2097.1" y="1890.8" font-size="51.6" text-anchor="middle" fill="#000">n.d.</text>
<text class="r" x="2280.0" y="1890.8" font-size="51.6" text-anchor="middle" fill="#000">n.d.</text>
<rect x="359.9" y="1960.8" width="182.9" height="182.8" fill="#6CC17D"/>
<text class="r" x="451.3" y="2073.7" font-size="49" text-anchor="middle" fill="#000">63</text>
<rect x="542.7" y="1960.8" width="182.9" height="182.8" fill="#63BE7B"/>
<text class="r" x="634.2" y="2073.7" font-size="49" text-anchor="middle" fill="#000">67</text>
<rect x="725.6" y="1960.8" width="182.9" height="182.8" fill="#DEE595"/>
<text class="r" x="817.0" y="2073.7" font-size="49" text-anchor="middle" fill="#000">15</text>
<rect x="1091.3" y="1960.8" width="182.9" height="182.8" fill="#F6F7FA"/>
<text class="b" x="1182.8" y="2051.5" font-size="52.5" text-anchor="middle" textLength="71.2" lengthAdjust="spacingAndGlyphs" fill="#000">1.4</text>
<text class="r" x="1182.8" y="2101.5" font-size="33.5" text-anchor="middle" textLength="138.1" lengthAdjust="spacingAndGlyphs" fill="#111">(1.0, 1.7)</text>
<rect x="1274.2" y="1960.8" width="182.9" height="182.8" fill="#F6F7FA"/>
<text class="b" x="1365.7" y="2051.5" font-size="52.5" text-anchor="middle" textLength="71.2" lengthAdjust="spacingAndGlyphs" fill="#000">1.4</text>
<text class="r" x="1365.7" y="2101.5" font-size="33.5" text-anchor="middle" textLength="138.1" lengthAdjust="spacingAndGlyphs" fill="#111">(1.3, 1.4)</text>
<rect x="1457.1" y="1960.8" width="182.9" height="182.8" fill="#F9FAFC"/>
<text class="b" x="1548.5" y="2051.5" font-size="52.5" text-anchor="middle" textLength="71.2" lengthAdjust="spacingAndGlyphs" fill="#000">1.2</text>
<text class="r" x="1548.5" y="2101.5" font-size="33.5" text-anchor="middle" textLength="138.1" lengthAdjust="spacingAndGlyphs" fill="#111">(1.2, 1.4)</text>
<rect x="1640.0" y="1960.8" width="182.9" height="182.8" fill="#E8ECF3"/>
<text class="b" x="1731.4" y="2051.5" font-size="52.5" text-anchor="middle" textLength="71.2" lengthAdjust="spacingAndGlyphs" fill="#000">2.3</text>
<text class="r" x="1731.4" y="2101.5" font-size="33.5" text-anchor="middle" textLength="138.1" lengthAdjust="spacingAndGlyphs" fill="#111">(1.8, 2.9)</text>
<rect x="1822.8" y="1960.8" width="182.9" height="182.8" fill="#E5E9F2"/>
<text class="b" x="1914.3" y="2051.5" font-size="52.5" text-anchor="middle" textLength="71.2" lengthAdjust="spacingAndGlyphs" fill="#000">2.5</text>
<text class="r" x="1914.3" y="2101.5" font-size="33.5" text-anchor="middle" textLength="138.1" lengthAdjust="spacingAndGlyphs" fill="#111">(2.2, 2.8)</text>
<rect x="2005.7" y="1960.8" width="182.9" height="182.8" fill="#EFF2F7"/>
<text class="b" x="2097.1" y="2051.5" font-size="52.5" text-anchor="middle" textLength="71.2" lengthAdjust="spacingAndGlyphs" fill="#000">1.8</text>
<text class="r" x="2097.1" y="2101.5" font-size="33.5" text-anchor="middle" textLength="138.1" lengthAdjust="spacingAndGlyphs" fill="#111">(1.8, 1.8)</text>
<rect x="2188.6" y="1960.8" width="182.9" height="182.8" fill="#F4F6FA"/>
<text class="b" x="2280.0" y="2051.5" font-size="52.5" text-anchor="middle" textLength="71.2" lengthAdjust="spacingAndGlyphs" fill="#000">1.5</text>
<text class="r" x="2280.0" y="2101.5" font-size="33.5" text-anchor="middle" textLength="138.1" lengthAdjust="spacingAndGlyphs" fill="#111">(1.5, 1.5)</text>
<rect x="359.9" y="2143.6" width="182.9" height="182.8" fill="#C4DC90"/>
<text class="r" x="451.3" y="2256.5" font-size="49" text-anchor="middle" fill="#000">26</text>
<rect x="542.7" y="2143.6" width="182.9" height="182.8" fill="#D0E092"/>
<text class="r" x="634.2" y="2256.5" font-size="49" text-anchor="middle" fill="#000">21</text>
<rect x="725.6" y="2143.6" width="182.9" height="182.8" fill="#FAEE9B"/>
<text class="r" x="817.0" y="2256.5" font-size="49" text-anchor="middle" fill="#000">3</text>
<rect x="908.5" y="2143.6" width="182.9" height="182.8" fill="#C6DD90"/>
<text class="r" x="999.9" y="2256.5" font-size="49" text-anchor="middle" fill="#000">25</text>
<rect x="1274.2" y="2143.6" width="182.9" height="182.8" fill="#FDFEFE"/>
<text class="b" x="1365.7" y="2234.3" font-size="52.5" text-anchor="middle" textLength="71.2" lengthAdjust="spacingAndGlyphs" fill="#000">0.9</text>
<text class="r" x="1365.7" y="2284.3" font-size="33.5" text-anchor="middle" textLength="138.1" lengthAdjust="spacingAndGlyphs" fill="#111">(0.9, 1.4)</text>
<rect x="1457.1" y="2143.6" width="182.9" height="182.8" fill="#FCFCFD"/>
<text class="b" x="1548.5" y="2234.3" font-size="52.5" text-anchor="middle" textLength="71.2" lengthAdjust="spacingAndGlyphs" fill="#000">1.0</text>
<text class="r" x="1548.5" y="2284.3" font-size="33.5" text-anchor="middle" textLength="138.1" lengthAdjust="spacingAndGlyphs" fill="#111">(0.9, 1.5)</text>
<rect x="1640.0" y="2143.6" width="182.9" height="182.8" fill="#F1F4F8"/>
<text class="b" x="1731.4" y="2234.3" font-size="52.5" text-anchor="middle" textLength="71.2" lengthAdjust="spacingAndGlyphs" fill="#000">1.7</text>
<text class="r" x="1731.4" y="2284.3" font-size="33.5" text-anchor="middle" textLength="138.1" lengthAdjust="spacingAndGlyphs" fill="#111">(1.3, 2.1)</text>
<text class="r" x="1914.3" y="2256.5" font-size="51.6" text-anchor="middle" fill="#000">n.d.</text>
<text class="r" x="2097.1" y="2256.5" font-size="51.6" text-anchor="middle" fill="#000">n.d.</text>
<text class="r" x="2280.0" y="2256.5" font-size="51.6" text-anchor="middle" fill="#000">n.d.</text>
<rect x="359.9" y="2326.4" width="182.9" height="182.8" fill="#F1EB99"/>
<text class="r" x="451.3" y="2439.4" font-size="49" text-anchor="middle" fill="#000">7</text>
<rect x="542.7" y="2326.4" width="182.9" height="182.8" fill="#F6EC9A"/>
<text class="r" x="634.2" y="2439.4" font-size="49" text-anchor="middle" fill="#000">5</text>
<text class="r" x="817.0" y="2439.4" font-size="51.6" text-anchor="middle" fill="#000">n.d.</text>
<rect x="908.5" y="2326.4" width="182.9" height="182.8" fill="#F1EB99"/>
<text class="r" x="999.9" y="2439.4" font-size="49" text-anchor="middle" fill="#000">7</text>
<rect x="1091.3" y="2326.4" width="182.9" height="182.8" fill="#FAEE9B"/>
<text class="r" x="1182.8" y="2439.4" font-size="49" text-anchor="middle" fill="#000">3.0</text>
<text class="r" x="1548.5" y="2439.4" font-size="51.6" text-anchor="middle" fill="#000">n.d.</text>
<rect x="1640.0" y="2326.4" width="182.9" height="182.8" fill="#ECF0F6"/>
<text class="b" x="1731.4" y="2417.2" font-size="52.5" text-anchor="middle" textLength="71.2" lengthAdjust="spacingAndGlyphs" fill="#000">2.0</text>
<text class="r" x="1731.4" y="2467.2" font-size="33.5" text-anchor="middle" textLength="138.1" lengthAdjust="spacingAndGlyphs" fill="#111">(2.0, 2.5)</text>
<rect x="1822.8" y="2326.4" width="182.9" height="182.8" fill="#ECF0F6"/>
<text class="b" x="1914.3" y="2417.2" font-size="52.5" text-anchor="middle" textLength="71.2" lengthAdjust="spacingAndGlyphs" fill="#000">2.0</text>
<text class="r" x="1914.3" y="2467.2" font-size="33.5" text-anchor="middle" textLength="138.1" lengthAdjust="spacingAndGlyphs" fill="#111">(2.0, 2.0)</text>
<text class="r" x="2097.1" y="2439.4" font-size="51.6" text-anchor="middle" fill="#000">n.d.</text>
<text class="r" x="2280.0" y="2439.4" font-size="51.6" text-anchor="middle" fill="#000">n.d.</text>
<rect x="359.9" y="2509.3" width="182.9" height="182.8" fill="#DCE494"/>
<text class="r" x="451.3" y="2622.2" font-size="49" text-anchor="middle" fill="#000">16</text>
<rect x="542.7" y="2509.3" width="182.9" height="182.8" fill="#DCE494"/>
<text class="r" x="634.2" y="2622.2" font-size="49" text-anchor="middle" fill="#000">16</text>
<rect x="725.6" y="2509.3" width="182.9" height="182.8" fill="#ECE998"/>
<text class="r" x="817.0" y="2622.2" font-size="49" text-anchor="middle" fill="#000">9</text>
<rect x="908.5" y="2509.3" width="182.9" height="182.8" fill="#DCE494"/>
<text class="r" x="999.9" y="2622.2" font-size="49" text-anchor="middle" fill="#000">16</text>
<rect x="1091.3" y="2509.3" width="182.9" height="182.8" fill="#FAEE9B"/>
<text class="r" x="1182.8" y="2622.2" font-size="49" text-anchor="middle" fill="#000">3</text>
<text class="r" x="1365.7" y="2622.2" font-size="51.6" text-anchor="middle" fill="#000">n.d.</text>
<rect x="1640.0" y="2509.3" width="182.9" height="182.8" fill="#EBEFF5"/>
<text class="b" x="1731.4" y="2600.0" font-size="52.5" text-anchor="middle" textLength="71.2" lengthAdjust="spacingAndGlyphs" fill="#000">2.1</text>
<text class="r" x="1731.4" y="2650.0" font-size="33.5" text-anchor="middle" textLength="138.1" lengthAdjust="spacingAndGlyphs" fill="#111">(1.4, 2.1)</text>
<text class="r" x="1914.3" y="2622.2" font-size="51.6" text-anchor="middle" fill="#000">n.d.</text>
<text class="r" x="2097.1" y="2622.2" font-size="51.6" text-anchor="middle" fill="#000">n.d.</text>
<text class="r" x="2280.0" y="2622.2" font-size="51.6" text-anchor="middle" fill="#000">n.d.</text>
<rect x="359.9" y="2692.1" width="182.9" height="182.8" fill="#A5D389"/>
<text class="r" x="451.3" y="2805.0" font-size="49" text-anchor="middle" fill="#000">39</text>
<rect x="542.7" y="2692.1" width="182.9" height="182.8" fill="#B3D78C"/>
<text class="r" x="634.2" y="2805.0" font-size="49" text-anchor="middle" fill="#000">33</text>
<rect x="725.6" y="2692.1" width="182.9" height="182.8" fill="#F6EC9A"/>
<text class="r" x="817.0" y="2805.0" font-size="49" text-anchor="middle" fill="#000">5</text>
<rect x="908.5" y="2692.1" width="182.9" height="182.8" fill="#AFD68B"/>
<text class="r" x="999.9" y="2805.0" font-size="49" text-anchor="middle" fill="#000">35</text>
<rect x="1091.3" y="2692.1" width="182.9" height="182.8" fill="#C4DC90"/>
<text class="r" x="1182.8" y="2805.0" font-size="49" text-anchor="middle" fill="#000">26</text>
<rect x="1274.2" y="2692.1" width="182.9" height="182.8" fill="#F3EB9A"/>
<text class="r" x="1365.7" y="2805.0" font-size="49" text-anchor="middle" fill="#000">6</text>
<rect x="1457.1" y="2692.1" width="182.9" height="182.8" fill="#F6EC9A"/>
<text class="r" x="1548.5" y="2805.0" font-size="49" text-anchor="middle" fill="#000">5</text>
<rect x="1822.8" y="2692.1" width="182.9" height="182.8" fill="#F9FAFC"/>
<text class="b" x="1914.3" y="2782.8" font-size="52.5" text-anchor="middle" textLength="71.2" lengthAdjust="spacingAndGlyphs" fill="#000">1.2</text>
<text class="r" x="1914.3" y="2832.8" font-size="33.5" text-anchor="middle" textLength="138.1" lengthAdjust="spacingAndGlyphs" fill="#111">(1.0, 1.6)</text>
<rect x="2005.7" y="2692.1" width="182.9" height="182.8" fill="#FAFBFD"/>
<text class="b" x="2097.1" y="2782.8" font-size="52.5" text-anchor="middle" textLength="71.2" lengthAdjust="spacingAndGlyphs" fill="#000">1.1</text>
<text class="r" x="2097.1" y="2832.8" font-size="33.5" text-anchor="middle" textLength="138.1" lengthAdjust="spacingAndGlyphs" fill="#111">(0.8, 1.7)</text>
<rect x="2188.6" y="2692.1" width="182.9" height="182.8" fill="#FCFCFD"/>
<text class="b" x="2280.0" y="2782.8" font-size="52.5" text-anchor="middle" textLength="71.2" lengthAdjust="spacingAndGlyphs" fill="#000">1.0</text>
<text class="r" x="2280.0" y="2832.8" font-size="33.5" text-anchor="middle" textLength="138.1" lengthAdjust="spacingAndGlyphs" fill="#111">(0.7, 1.5)</text>
<rect x="359.9" y="2875.0" width="182.9" height="182.8" fill="#FAEE9B"/>
<text class="r" x="451.3" y="2987.9" font-size="49" text-anchor="middle" fill="#000">3</text>
<rect x="542.7" y="2875.0" width="182.9" height="182.8" fill="#FFEF9C"/>
<text class="r" x="634.2" y="2987.9" font-size="49" text-anchor="middle" fill="#000">1</text>
<text class="r" x="817.0" y="2987.9" font-size="51.6" text-anchor="middle" fill="#000">n.d.</text>
<rect x="908.5" y="2875.0" width="182.9" height="182.8" fill="#FDEE9C"/>
<text class="r" x="999.9" y="2987.9" font-size="49" text-anchor="middle" fill="#000">2</text>
<text class="r" x="1182.8" y="2987.9" font-size="51.6" text-anchor="middle" fill="#000">n.d.</text>
<rect x="1274.2" y="2875.0" width="182.9" height="182.8" fill="#FFEF9C"/>
<text class="r" x="1365.7" y="2987.9" font-size="49" text-anchor="middle" fill="#000">1</text>
<text class="r" x="1548.5" y="2987.9" font-size="51.6" text-anchor="middle" fill="#000">n.d.</text>
<rect x="1640.0" y="2875.0" width="182.9" height="182.8" fill="#FDEE9C"/>
<text class="r" x="1731.4" y="2987.9" font-size="49" text-anchor="middle" fill="#000">2</text>
<rect x="2005.7" y="2875.0" width="182.9" height="182.8" fill="#FDFEFE"/>
<text class="b" x="2097.1" y="2965.7" font-size="52.5" text-anchor="middle" textLength="71.2" lengthAdjust="spacingAndGlyphs" fill="#000">0.9</text>
<text class="r" x="2097.1" y="3015.7" font-size="33.5" text-anchor="middle" textLength="138.1" lengthAdjust="spacingAndGlyphs" fill="#111">(0.8, 1.1)</text>
<rect x="2188.6" y="2875.0" width="182.9" height="182.8" fill="#FFFFFF"/>
<text class="b" x="2280.0" y="2965.7" font-size="52.5" text-anchor="middle" textLength="71.2" lengthAdjust="spacingAndGlyphs" fill="#000">0.8</text>
<text class="r" x="2280.0" y="3015.7" font-size="33.5" text-anchor="middle" textLength="138.1" lengthAdjust="spacingAndGlyphs" fill="#111">(0.7, 1.5)</text>
<rect x="359.9" y="3057.8" width="182.9" height="182.8" fill="#FDEE9C"/>
<text class="r" x="451.3" y="3170.7" font-size="49" text-anchor="middle" fill="#000">2</text>
<text class="r" x="634.2" y="3170.7" font-size="51.6" text-anchor="middle" fill="#000">n.d.</text>
<text class="r" x="817.0" y="3170.7" font-size="51.6" text-anchor="middle" fill="#000">n.d.</text>
<rect x="908.5" y="3057.8" width="182.9" height="182.8" fill="#FFEF9C"/>
<text class="r" x="999.9" y="3170.7" font-size="49" text-anchor="middle" fill="#000">1</text>
<text class="r" x="1182.8" y="3170.7" font-size="51.6" text-anchor="middle" fill="#000">n.d.</text>
<text class="r" x="1365.7" y="3170.7" font-size="51.6" text-anchor="middle" fill="#000">n.d.</text>
<text class="r" x="1548.5" y="3170.7" font-size="51.6" text-anchor="middle" fill="#000">n.d.</text>
<rect x="1640.0" y="3057.8" width="182.9" height="182.8" fill="#FDEE9C"/>
<text class="r" x="1731.4" y="3170.7" font-size="49" text-anchor="middle" fill="#000">2</text>
<rect x="1822.8" y="3057.8" width="182.9" height="182.8" fill="#FDEE9C"/>
<text class="r" x="1914.3" y="3170.7" font-size="49" text-anchor="middle" fill="#000">2</text>
<rect x="2188.6" y="3057.8" width="182.9" height="182.8" fill="#FDFEFE"/>
<text class="b" x="2280.0" y="3148.5" font-size="52.5" text-anchor="middle" textLength="71.2" lengthAdjust="spacingAndGlyphs" fill="#000">0.9</text>
<text class="r" x="2280.0" y="3198.5" font-size="33.5" text-anchor="middle" textLength="138.1" lengthAdjust="spacingAndGlyphs" fill="#111">(0.9, 0.9)</text>
<rect x="359.9" y="3240.6" width="182.9" height="182.8" fill="#FDEE9C"/>
<text class="r" x="451.3" y="3353.6" font-size="49" text-anchor="middle" fill="#000">2</text>
<text class="r" x="634.2" y="3353.6" font-size="51.6" text-anchor="middle" fill="#000">n.d.</text>
<text class="r" x="817.0" y="3353.6" font-size="51.6" text-anchor="middle" fill="#000">n.d.</text>
<rect x="908.5" y="3240.6" width="182.9" height="182.8" fill="#FFEF9C"/>
<text class="r" x="999.9" y="3353.6" font-size="49" text-anchor="middle" fill="#000">1</text>
<text class="r" x="1182.8" y="3353.6" font-size="51.6" text-anchor="middle" fill="#000">n.d.</text>
<text class="r" x="1365.7" y="3353.6" font-size="51.6" text-anchor="middle" fill="#000">n.d.</text>
<text class="r" x="1548.5" y="3353.6" font-size="51.6" text-anchor="middle" fill="#000">n.d.</text>
<rect x="1640.0" y="3240.6" width="182.9" height="182.8" fill="#FDEE9C"/>
<text class="r" x="1731.4" y="3353.6" font-size="49" text-anchor="middle" fill="#000">2</text>
<rect x="1822.8" y="3240.6" width="182.9" height="182.8" fill="#FDEE9C"/>
<text class="r" x="1914.3" y="3353.6" font-size="49" text-anchor="middle" fill="#000">2</text>
<rect x="2005.7" y="3240.6" width="182.9" height="182.8" fill="#FDEE9C"/>
<text class="r" x="2097.1" y="3353.6" font-size="49" text-anchor="middle" fill="#000">2</text>
<text class="b" x="451.3" y="1339.3" font-size="37.5" text-anchor="middle" textLength="59.8" lengthAdjust="spacingAndGlyphs" fill="#000">WT</text>
<text class="b" x="268.4" y="1520.2" font-size="37.5" text-anchor="middle" textLength="59.8" lengthAdjust="spacingAndGlyphs" fill="#000">WT</text>
<text class="b" x="634.2" y="1339.3" font-size="37.5" text-anchor="middle" textLength="87.6" lengthAdjust="spacingAndGlyphs" fill="#000">BA.1</text>
<text class="b" x="268.4" y="1703.0" font-size="37.5" text-anchor="middle" textLength="87.6" lengthAdjust="spacingAndGlyphs" fill="#000">BA.1</text>
<text class="b" x="817.0" y="1339.3" font-size="37.5" text-anchor="middle" textLength="119.6" lengthAdjust="spacingAndGlyphs" fill="#000">BA.1.1</text>
<text class="b" x="268.4" y="1885.8" font-size="37.5" text-anchor="middle" textLength="119.6" lengthAdjust="spacingAndGlyphs" fill="#000">BA.1.1</text>
<text class="b" x="999.9" y="1339.3" font-size="37.5" text-anchor="middle" textLength="87.6" lengthAdjust="spacingAndGlyphs" fill="#000">BA.2</text>
<text class="b" x="268.4" y="2068.7" font-size="37.5" text-anchor="middle" textLength="87.6" lengthAdjust="spacingAndGlyphs" fill="#000">BA.2</text>
<text class="b" x="1182.8" y="1339.3" font-size="37.5" text-anchor="middle" textLength="173.6" lengthAdjust="spacingAndGlyphs" fill="#000">BA.2.12.1</text>
<text class="b" x="268.4" y="2251.5" font-size="37.5" text-anchor="middle" textLength="173.6" lengthAdjust="spacingAndGlyphs" fill="#000">BA.2.12.1</text>
<text class="b" x="1365.7" y="1339.3" font-size="37.5" text-anchor="middle" textLength="141.0" lengthAdjust="spacingAndGlyphs" fill="#000">BA.2.75</text>
<text class="b" x="268.4" y="2434.4" font-size="37.5" text-anchor="middle" textLength="141.0" lengthAdjust="spacingAndGlyphs" fill="#000">BA.2.75</text>
<text class="b" x="1548.5" y="1339.3" font-size="37.5" text-anchor="middle" textLength="87.6" lengthAdjust="spacingAndGlyphs" fill="#000">BA.3</text>
<text class="b" x="268.4" y="2617.2" font-size="37.5" text-anchor="middle" textLength="87.6" lengthAdjust="spacingAndGlyphs" fill="#000">BA.3</text>
<text class="b" x="1731.4" y="1339.3" font-size="37.5" text-anchor="middle" textLength="119.6" lengthAdjust="spacingAndGlyphs" fill="#000">BA.4/5</text>
<text class="b" x="268.4" y="2800.0" font-size="37.5" text-anchor="middle" textLength="119.6" lengthAdjust="spacingAndGlyphs" fill="#000">BA.4/5</text>
<text class="b" x="1914.3" y="1339.3" font-size="37.5" text-anchor="middle" textLength="119.6" lengthAdjust="spacingAndGlyphs" fill="#000">BA.4.6</text>
<text class="b" x="268.4" y="2982.9" font-size="37.5" text-anchor="middle" textLength="119.6" lengthAdjust="spacingAndGlyphs" fill="#000">BA.4.6</text>
<text class="b" x="2097.1" y="1339.3" font-size="37.5" text-anchor="middle" textLength="119.6" lengthAdjust="spacingAndGlyphs" fill="#000">BA.4.7</text>
<text class="b" x="268.4" y="3165.7" font-size="37.5" text-anchor="middle" textLength="119.6" lengthAdjust="spacingAndGlyphs" fill="#000">BA.4.7</text>
<text class="b" x="2280.0" y="1339.3" font-size="37.5" text-anchor="middle" textLength="119.6" lengthAdjust="spacingAndGlyphs" fill="#000">BA.5.9</text>
<text class="b" x="268.4" y="3348.6" font-size="37.5" text-anchor="middle" textLength="119.6" lengthAdjust="spacingAndGlyphs" fill="#000">BA.5.9</text>
<line x1="359.9" y1="1229.4" x2="359.9" y2="3423.5" stroke="#000" stroke-width="3.0"/>
<line x1="177.0" y1="1412.2" x2="2371.4" y2="1412.2" stroke="#000" stroke-width="3.0"/>
<line x1="542.7" y1="1229.4" x2="542.7" y2="3423.5" stroke="#000" stroke-width="3.0"/>
<line x1="177.0" y1="1595.1" x2="2371.4" y2="1595.1" stroke="#000" stroke-width="3.0"/>
<line x1="725.6" y1="1229.4" x2="725.6" y2="3423.5" stroke="#000" stroke-width="3.0"/>
<line x1="177.0" y1="1777.9" x2="2371.4" y2="1777.9" stroke="#000" stroke-width="3.0"/>
<line x1="908.5" y1="1229.4" x2="908.5" y2="3423.5" stroke="#000" stroke-width="3.0"/>
<line x1="177.0" y1="1960.8" x2="2371.4" y2="1960.8" stroke="#000" stroke-width="3.0"/>
<line x1="1091.3" y1="1229.4" x2="1091.3" y2="3423.5" stroke="#000" stroke-width="3.0"/>
<line x1="177.0" y1="2143.6" x2="2371.4" y2="2143.6" stroke="#000" stroke-width="3.0"/>
<line x1="1274.2" y1="1229.4" x2="1274.2" y2="3423.5" stroke="#000" stroke-width="3.0"/>
<line x1="177.0" y1="2326.4" x2="2371.4" y2="2326.4" stroke="#000" stroke-width="3.0"/>
<line x1="1457.1" y1="1229.4" x2="1457.1" y2="3423.5" stroke="#000" stroke-width="3.0"/>
<line x1="177.0" y1="2509.3" x2="2371.4" y2="2509.3" stroke="#000" stroke-width="3.0"/>
<line x1="1640.0" y1="1229.4" x2="1640.0" y2="3423.5" stroke="#000" stroke-width="3.0"/>
<line x1="177.0" y1="2692.1" x2="2371.4" y2="2692.1" stroke="#000" stroke-width="3.0"/>
<line x1="1822.8" y1="1229.4" x2="1822.8" y2="3423.5" stroke="#000" stroke-width="3.0"/>
<line x1="177.0" y1="2875.0" x2="2371.4" y2="2875.0" stroke="#000" stroke-width="3.0"/>
<line x1="2005.7" y1="1229.4" x2="2005.7" y2="3423.5" stroke="#000" stroke-width="3.0"/>
<line x1="177.0" y1="3057.8" x2="2371.4" y2="3057.8" stroke="#000" stroke-width="3.0"/>
<line x1="2188.6" y1="1229.4" x2="2188.6" y2="3423.5" stroke="#000" stroke-width="3.0"/>
<line x1="177.0" y1="3240.6" x2="2371.4" y2="3240.6" stroke="#000" stroke-width="3.0"/>
<rect x="177.0" y="1229.4" width="2194.4" height="2194.1" fill="none" stroke="#000" stroke-width="5"/>
<line x1="177.0" y1="1229.4" x2="2371.4" y2="3423.5" stroke="#000" stroke-width="6.3"/>
<text class="b" x="1274.6" y="3507.5" font-size="58.3" text-anchor="middle" fill="#000">Number of paired observations</text>
<text class="b" x="0.0" y="0.0" font-size="58.3" text-anchor="middle" transform="translate(2415.0 2352.0) rotate(90)" fill="#000">Fold-reduction in neutralization titers, median (IQR)</text>
</svg>
</body>
</html>
